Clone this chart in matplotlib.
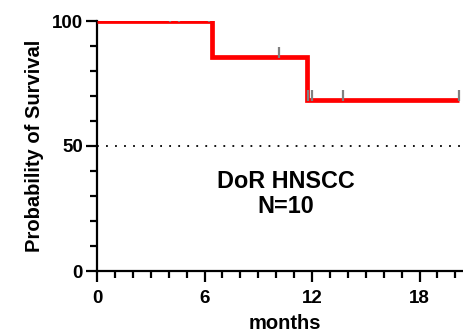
import matplotlib
matplotlib.use("Agg")
import matplotlib.pyplot as plt
import numpy as np

plt.rcParams['font.family'] = ['Liberation Sans', 'DejaVu Sans']
plt.rcParams['font.weight'] = 'bold'

# Data
step_times = [0, 6.4, 11.7, 20.2]
step_surv = [100, 85.7, 68.6, 68.6]
censor_times = [4.1, 4.6, 6.25, 10.15, 11.8, 12.0, 13.75, 20.2]
censor_surv = [100, 100, 100, 85.7, 68.6, 68.6, 68.6, 68.6]
x_ticks = [0, 6, 12, 18]
y_ticks = [0, 50, 100]
annotation = "DoR HNSCC\nN=10"

W, H = 464, 334
fig = plt.figure(figsize=(W / 100, H / 100), dpi=100)
left_px, right_px, top_px, bot_px = 97, 473.3, 21, 271
ax = fig.add_axes([left_px / W, (H - bot_px) / H, (right_px - left_px) / W, (bot_px - top_px) / H])

ax.step(step_times, step_surv, where='post', color='#ff0000', lw=3.4, zorder=3,
        solid_joinstyle='miter', solid_capstyle='butt')
ax.vlines(censor_times, np.array(censor_surv) - 0.4, np.array(censor_surv) + 4,
          color='#808080', lw=1.6, zorder=4)

ax.axhline(50, color='black', lw=1.3, linestyle=(0, (1, 4)), zorder=2)

ax.set_xlim(0, 21)
ax.set_ylim(0, 100)

for s in ['top', 'right']:
    ax.spines[s].set_visible(False)
for s in ['left', 'bottom']:
    ax.spines[s].set_linewidth(1.6)
    ax.spines[s].set_color('black')

ax.set_xticks(x_ticks)
ax.set_yticks(y_ticks)
ax.set_xticks(np.arange(0, 21, 1), minor=True)
ax.set_yticks(np.arange(0, 101, 10), minor=True)
ax.tick_params(which='major', length=8, width=1.6, color='black', labelsize=13.5)
ax.tick_params(axis='x', which='major', pad=6)
ax.tick_params(axis='y', which='major', pad=2)
ax.tick_params(which='minor', length=5, width=1.6, color='black')
for lbl in ax.get_xticklabels() + ax.get_yticklabels():
    lbl.set_fontweight('bold')

ax.set_xlabel('months', fontsize=14.5, fontweight='bold', labelpad=4.5)
ax.set_ylabel('Probability of Survival', fontsize=14.5, fontweight='bold', labelpad=6)

ax.text(10.55, 30.8, annotation, ha='center', va='center', fontsize=16.8,
        fontweight='bold', linespacing=1.1)

fig.savefig('out.png', dpi=100)
